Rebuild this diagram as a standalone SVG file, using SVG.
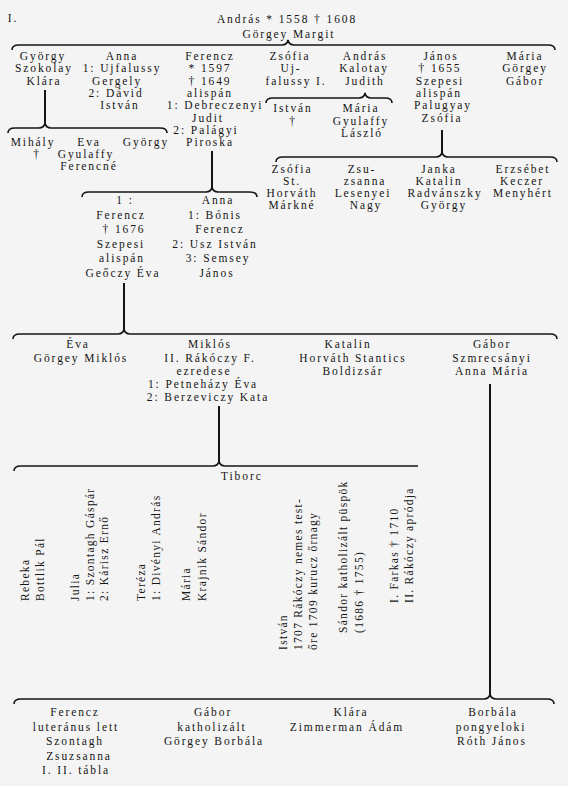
<svg xmlns="http://www.w3.org/2000/svg" width="568" height="786" viewBox="0 0 568 786">
<style>
.t{font-family:"Liberation Serif","Times New Roman",serif;font-size:11.5px;letter-spacing:1.9px;fill:#151515;text-anchor:middle;font-variant-emoji:text}
.r{text-anchor:start;letter-spacing:1.3px}
.b{fill:none;stroke:#151515;stroke-width:1.6}
.v{stroke:#151515;stroke-width:2}
</style>
<rect width="568" height="786" fill="#f4f4f4"/>
<g id="connectors">
<path class="b" d="M12 50 Q12 45 19 45 L282 45 Q287 45 288 40 Q289 45 294 45 L548 45 Q555 45 555 50"/>
<line class="v" x1="45" y1="90" x2="45" y2="123"/>
<path class="b" d="M8 133 Q8 128 15 128 L39 128 Q44 128 45 123 Q46 128 51 128 L160 128 Q167 128 167 133"/>
<path class="b" d="M266 103 Q266 98 273 98 L359 98 Q364 98 365 93 Q366 98 371 98 L385 98 Q392 98 392 103"/>
<line class="v" x1="442" y1="130" x2="442" y2="152"/>
<path class="b" d="M276 162 Q276 157 283 157 L436 157 Q441 157 442 152 Q443 157 448 157 L550 157 Q557 157 557 162"/>
<line class="v" x1="212" y1="151" x2="212" y2="187"/>
<path class="b" d="M82 197 Q82 192 89 192 L206 192 Q211 192 212 187 Q213 192 218 192 L250 192 Q257 192 257 197"/>
<line class="v" x1="124" y1="283" x2="124" y2="329"/>
<path class="b" d="M13 339 Q13 334 20 334 L118 334 Q123 334 124 329 Q125 334 130 334 L550 334 Q557 334 557 339"/>
<line class="v" x1="219" y1="406" x2="219" y2="461"/>
<path class="b" d="M14 471 Q14 466 21 466 L213 466 Q218 466 219 461 Q220 466 225 466 L418 466"/>
<line class="v" x1="490" y1="384" x2="490" y2="694"/>
<path class="b" d="M14 704 Q14 699 21 699 L484 699 Q489 699 490 694 Q491 699 496 699 L547 699 Q554 699 554 704"/>
</g>
<g id="header">
<text class="t" x="13" y="22">I.</text>
<text class="t" x="287" y="23">András * 1558 † 1608</text>
<text class="t" x="289" y="38">Görgey Margit</text>
</g>
<g id="gyorgy"><text class="t"><tspan x="43" y="60">György</tspan><tspan x="44" y="72.3">Szokolay</tspan><tspan x="44" y="84.6">Klára</tspan></text></g>
<g id="anna1"><text class="t"><tspan x="122" y="60">Anna</tspan><tspan x="122" y="72.3">1: Ujfalussy</tspan><tspan x="117" y="84.6">Gergely</tspan><tspan x="116" y="96.9">2: Dávid</tspan><tspan x="120" y="109.2">István</tspan></text></g>
<g id="ferencz1"><text class="t"><tspan x="210" y="60">Ferencz</tspan><tspan x="210" y="72.3">* 1597</tspan><tspan x="210" y="84.6">† 1649</tspan><tspan x="210" y="96.9">alispán</tspan><tspan x="215" y="109.2">1: Debreczenyi</tspan><tspan x="208" y="121.5">Judit</tspan><tspan x="206" y="133.8">2: Palágyi</tspan><tspan x="210" y="146.1">Piroska</tspan></text></g>
<g id="zsofia1"><text class="t"><tspan x="290" y="60">Zsófia</tspan><tspan x="291" y="72.3">Uj-</tspan><tspan x="296" y="84.6">falussy I.</tspan></text></g>
<g id="andras1"><text class="t"><tspan x="365" y="60">András</tspan><tspan x="364" y="72.3">Kalotay</tspan><tspan x="365" y="84.6">Judith</tspan></text></g>
<g id="janos1"><text class="t"><tspan x="441" y="60">János</tspan><tspan x="440" y="72.3">† 1655</tspan><tspan x="440" y="84.6">Szepesi</tspan><tspan x="439" y="96.9">alispán</tspan><tspan x="443" y="109.2">Palugyay</tspan><tspan x="442" y="121.5">Zsófia</tspan></text></g>
<g id="maria1"><text class="t"><tspan x="525" y="60">Mária</tspan><tspan x="525" y="72.3">Görgey</tspan><tspan x="525" y="84.6">Gábor</tspan></text></g>
<g id="mihaly"><text class="t"><tspan x="33" y="146">Mihály</tspan><tspan x="37" y="158">†</tspan></text></g>
<g id="eva1"><text class="t"><tspan x="89" y="146">Eva</tspan><tspan x="86" y="158">Gyulaffy</tspan><tspan x="89" y="170">Ferencné</tspan></text></g>
<g id="gyorgy2"><text class="t" x="146" y="146">György</text></g>
<g id="istvan1"><text class="t"><tspan x="293" y="112">István</tspan><tspan x="293" y="124.5">†</tspan></text></g>
<g id="maria2"><text class="t"><tspan x="361" y="112">Mária</tspan><tspan x="361" y="124.5">Gyulaffy</tspan><tspan x="362" y="137">László</tspan></text></g>
<g id="zsofia2"><text class="t"><tspan x="292" y="173">Zsófia</tspan><tspan x="292" y="185">St.</tspan><tspan x="292" y="197">Horváth</tspan><tspan x="292" y="209">Márkné</tspan></text></g>
<g id="zsuzsanna1"><text class="t"><tspan x="362" y="173">Zsu-</tspan><tspan x="365" y="185">zsanna</tspan><tspan x="363" y="197">Lesenyei</tspan><tspan x="366" y="209">Nagy</tspan></text></g>
<g id="janka"><text class="t"><tspan x="439" y="173">Janka</tspan><tspan x="439" y="185">Katalin</tspan><tspan x="445" y="197">Radvánszky</tspan><tspan x="444" y="209">György</tspan></text></g>
<g id="erzsebet"><text class="t"><tspan x="523" y="173">Erzsébet</tspan><tspan x="522" y="185">Keczer</tspan><tspan x="523" y="197">Menyhért</tspan></text></g>
<g id="ferencz2"><text class="t"><tspan x="125" y="204">1 :</tspan><tspan x="121" y="218.6">Ferencz</tspan><tspan x="124" y="233.2">† 1676</tspan><tspan x="121" y="247.8">Szepesi</tspan><tspan x="122" y="262.4">alispán</tspan><tspan x="123" y="277">Geőczy Éva</tspan></text></g>
<g id="anna2"><text class="t"><tspan x="218" y="204">Anna</tspan><tspan x="215" y="218.6">1: Bónis</tspan><tspan x="220" y="233.2">Ferencz</tspan><tspan x="215" y="247.8">2: Usz István</tspan><tspan x="218" y="262.4">3: Semsey</tspan><tspan x="217" y="277">János</tspan></text></g>
<g id="eva2"><text class="t"><tspan x="78" y="348">Éva</tspan><tspan x="81" y="361.5">Görgey Miklós</tspan></text></g>
<g id="miklos"><text class="t"><tspan x="210" y="348">Miklós</tspan><tspan x="210" y="361.5">II. Rákóczy F.</tspan><tspan x="204" y="374.5">ezredese</tspan><tspan x="203" y="388">1: Petneházy Éva</tspan><tspan x="208" y="401">2: Berzeviczy Kata</tspan></text></g>
<g id="katalin"><text class="t"><tspan x="348" y="348">Katalin</tspan><tspan x="353" y="361.5">Horváth Stantics</tspan><tspan x="353" y="374.5">Boldizsár</tspan></text></g>
<g id="gabor1"><text class="t"><tspan x="492" y="348">Gábor</tspan><tspan x="492" y="361.5">Szmrecsányi</tspan><tspan x="492" y="374.5">Anna Mária</tspan></text></g>
<g id="tiborc"><text class="t r" x="221" y="480" style="letter-spacing:1.9px">Tiborc</text></g>
<g id="rebeka"><text class="t r" transform="translate(29,601) rotate(-90)"><tspan x="0" y="0">Rebeka</tspan><tspan x="0" y="15">Bottlik Pál</tspan></text></g>
<g id="julia"><text class="t r" transform="translate(79,601) rotate(-90)"><tspan x="0" y="0">Julia</tspan><tspan x="0" y="14.5">1: Szontagh Gáspár</tspan><tspan x="0" y="29">2: Kárisz Ernő</tspan></text></g>
<g id="tereza"><text class="t r" transform="translate(145,601) rotate(-90)"><tspan x="0" y="0">Teréza</tspan><tspan x="0" y="15">1: Divényi András</tspan></text></g>
<g id="maria3"><text class="t r" transform="translate(190,601) rotate(-90)"><tspan x="0" y="0">Mária</tspan><tspan x="0" y="15.5">Krajnik Sándor</tspan></text></g>
<g id="istvan2"><text class="t r" transform="translate(287,650) rotate(-90)"><tspan x="0" y="0">István</tspan><tspan x="0" y="15">1707 Rákóczy nemes test-</tspan><tspan x="0" y="30">őre 1709 kurucz őrnagy</tspan></text></g>
<g id="sandor"><text class="t r" transform="translate(347,633) rotate(-90)"><tspan x="0" y="0">Sándor katholizált püspök</tspan><tspan x="0" y="15.5">(1686 † 1755)</tspan></text></g>
<g id="farkas"><text class="t r" transform="translate(398,603) rotate(-90)"><tspan x="0" y="0">I. Farkas † 1710</tspan><tspan x="0" y="15">II. Rákóczy apródja</tspan></text></g>
<g id="ferencz3"><text class="t"><tspan x="75" y="716">Ferencz</tspan><tspan x="76" y="730.5">luteránus lett</tspan><tspan x="75" y="745">Szontagh</tspan><tspan x="79" y="759.5">Zsuzsanna</tspan><tspan x="76" y="774">I. II. tábla</tspan></text></g>
<g id="gabor2"><text class="t"><tspan x="213" y="716">Gábor</tspan><tspan x="212" y="730.5">katholizált</tspan><tspan x="214" y="745">Görgey Borbála</tspan></text></g>
<g id="klara"><text class="t"><tspan x="351" y="716">Klára</tspan><tspan x="347" y="730.5">Zimmerman Ádám</tspan></text></g>
<g id="borbala"><text class="t"><tspan x="493" y="716">Borbála</tspan><tspan x="491" y="730.5">pongyeloki</tspan><tspan x="492" y="745">Róth János</tspan></text></g>
</svg>
